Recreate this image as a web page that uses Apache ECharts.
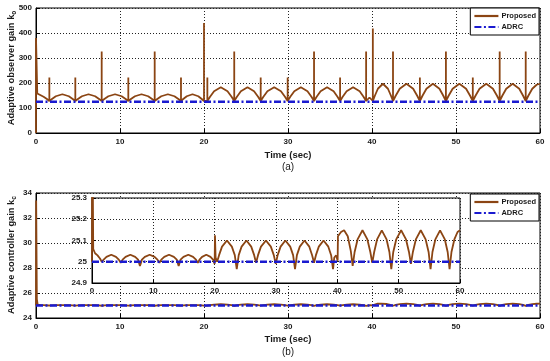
<!DOCTYPE html>
<html><head><meta charset="utf-8">
<script src="https://cdn.jsdelivr.net/npm/echarts@6/dist/echarts.min.js"></script>
<style>html,body{margin:0;padding:0;background:#fff}#c{width:550px;height:361px}</style>
</head><body><div id="c"></div>
<script>
// ---- data (time in sec, gain value) ----
const xTicks = [0, 10, 20, 30, 40, 50, 60];
const seriesNames = ['Proposed', 'ADRC'];
const yTitleObserver = 'Adaptive observer gain k{s|o}';
const yTitleController = 'Adaptive controller gain k{s|c}';
const adrcObserver = [[0, 125], [60, 125]];
const adrcController = [[0, 25], [60, 25]];
const observerGain = [
[0,0],[0,380],[0.15,158],[0.5,152],[0.9,145],[1.3,136],[1.59,128],[1.59,222],[1.59,128],
[1.9,136],[2.36,147],[3.14,155],[3.91,147],[4.37,136],[4.68,128],[4.68,222],[4.68,128],
[4.99,136],[5.47,147],[6.25,155],[7.04,147],[7.51,136],[7.82,128],[7.82,326],[7.82,128],
[8.14,136],[8.61,147],[9.41,155],[10.2,147],[10.67,136],[10.99,128],[10.99,222],[10.99,128],
[11.3,136],[11.78,147],[12.56,155],[13.35,147],[13.82,136],[14.13,128],[14.13,326],[14.13,128],
[14.44,136],[14.91,147],[15.7,155],[16.48,147],[16.95,136],[17.26,128],[17.26,222],[17.26,128],
[17.53,136],[17.95,147],[18.63,155],[19.32,147],[19.73,136],[20,128],[20,440],[20,128],
[20.2,134],[20.4,128],[20.4,222],[20.4,128],
[20.72,145],[21.2,167],[22,183],[22.8,167],[23.28,145],[23.6,128],[23.6,326],[23.6,128],
[23.92,145],[24.39,167],[25.18,183],[25.96,167],[26.44,145],[26.75,128],[26.75,222],[26.75,128],
[27.07,145],[27.55,167],[28.36,183],[29.16,167],[29.64,145],[29.96,128],[29.96,222],[29.96,128],
[30.27,145],[30.75,167],[31.53,183],[32.32,167],[32.79,145],[33.1,128],[33.1,326],[33.1,128],
[33.41,145],[33.88,167],[34.65,183],[35.43,167],[35.89,145],[36.2,128],[36.2,222],[36.2,128],
[36.51,145],[36.98,167],[37.75,183],[38.53,167],[38.99,145],[39.3,128],[39.3,326],[39.3,128],
[39.7,142],[40.1,128],[40.1,418],[40.1,128],
[40.34,149],[40.7,177],[41.3,197],[41.9,177],[42.26,149],[42.5,128],[42.5,326],[42.5,128],
[42.82,149],[43.3,177],[44.1,197],[44.9,177],[45.38,149],[45.7,128],[45.7,222],[45.7,128],
[46.01,149],[46.48,177],[47.25,197],[48.03,177],[48.49,149],[48.8,128],[48.8,326],[48.8,128],
[49.12,149],[49.6,177],[50.4,197],[51.2,177],[51.68,149],[52,128],[52,222],[52,128],
[52.32,149],[52.8,177],[53.6,197],[54.4,177],[54.88,149],[55.2,128],[55.2,326],[55.2,128],
[55.51,149],[55.98,177],[56.75,197],[57.53,177],[57.99,149],[58.3,128],[58.3,326],[58.3,128],
[58.61,149],[59.08,177],[59.6,193],[60,197]
];
const controllerGain = [
[0,25],[0.02,33.4],[0.1,25.5],[0.2,25.06],[0.5,25.04],[0.9,25.03],[1.3,25.015],[1.59,25.0],
[1.9,25.01],[2.36,25.023],[3.14,25.033],[3.91,25.023],[4.37,25.01],[4.68,24.995],
[4.99,25.01],[5.47,25.023],[6.25,25.033],[7.04,25.023],[7.51,25.01],[7.82,24.98],
[8.14,25.01],[8.61,25.023],[9.41,25.033],[10.2,25.023],[10.67,25.01],[10.99,24.995],
[11.3,25.01],[11.78,25.023],[12.56,25.033],[13.35,25.023],[13.82,25.01],[14.13,24.98],
[14.44,25.01],[14.91,25.023],[15.7,25.033],[16.48,25.023],[16.95,25.01],[17.26,24.995],
[17.53,25.01],[17.95,25.023],[18.63,25.033],[19.32,25.023],[19.73,25.01],[20,24.99],
[20.05,25.125],[20.15,25.02],[20.4,25.0],
[20.72,25.031],[21.2,25.071],[22,25.1],[22.8,25.071],[23.28,25.031],[23.6,24.965],
[23.92,25.031],[24.39,25.071],[25.18,25.1],[25.96,25.071],[26.44,25.031],[26.75,24.995],
[27.07,25.031],[27.55,25.071],[28.36,25.1],[29.16,25.071],[29.64,25.031],[29.96,24.99],
[30.27,25.031],[30.75,25.071],[31.53,25.1],[32.32,25.071],[32.79,25.031],[33.1,24.965],
[33.41,25.031],[33.88,25.071],[34.65,25.1],[35.43,25.071],[35.89,25.031],[36.2,24.995],
[36.51,25.031],[36.98,25.071],[37.75,25.1],[38.53,25.071],[38.99,25.031],[39.3,24.965],
[39.5,25.02],[39.8,25.03],[40.05,25.005],[40.1,25.12],[40.6,25.14],[41.1,25.148],[41.7,25.12],[42.2,25.05],[42.5,24.98],
[42.82,25.046],[43.3,25.105],[44.1,25.148],[44.9,25.105],[45.38,25.046],[45.7,24.995],
[46.01,25.046],[46.48,25.105],[47.25,25.148],[48.03,25.105],[48.49,25.046],[48.8,24.965],
[49.12,25.046],[49.6,25.105],[50.4,25.148],[51.2,25.105],[51.68,25.046],[52,24.99],
[52.32,25.046],[52.8,25.105],[53.6,25.148],[54.4,25.105],[54.88,25.046],[55.2,24.965],
[55.51,25.046],[55.98,25.105],[56.75,25.148],[57.53,25.105],[57.99,25.046],[58.3,24.965],
[58.61,25.046],[59.08,25.105],[59.6,25.14],[60,25.148]
];

// ---- styling ----
const BROWN = '#8b4513';
const BLUE = '#1a1ad0';
const TXT = '#1a1a1a';
const FONT = 'Liberation Sans, Arial, sans-serif';
const dotted = { show: true, lineStyle: { color: '#222', type: [1, 2], width: 1 } };

function xAx(gi, extra) {
  return Object.assign({
    type: 'value', gridIndex: gi, min: 0, max: 60, interval: 10,
    axisLine: { show: true, onZero: false, lineStyle: { color: '#000', width: 1 } },
    axisTick: { show: true, inside: true, length: 4, lineStyle: { color: '#000' } },
    axisLabel: { fontSize: 8, fontWeight: 'bold', color: TXT, fontFamily: FONT, margin: 5, showMinLabel: true, showMaxLabel: true, hideOverlap: false },
    splitLine: dotted
  }, extra || {});
}
function yAx(gi, min, max, interval, extra) {
  return Object.assign({
    type: 'value', gridIndex: gi, min: min, max: max, interval: interval,
    axisLine: { show: true, onZero: false, lineStyle: { color: '#000', width: 1 } },
    axisTick: { show: true, inside: true, length: 4, lineStyle: { color: '#000' } },
    axisLabel: { fontSize: 8, fontWeight: 'bold', color: TXT, fontFamily: FONT, margin: 4, showMinLabel: true, showMaxLabel: true, hideOverlap: false },
    splitLine: dotted
  }, extra || {});
}
const titleRich = { s: { fontSize: 6.5, fontWeight: 'bold', fill: TXT, fontFamily: FONT, verticalAlign: 'bottom', lineHeight: 7 } };
function yTitle(text, cx, cy) {
  return { type: 'text', x: cx, y: cy, rotation: Math.PI / 2, z: 30,
    style: { text: text, x: 0, y: 0, align: 'center', verticalAlign: 'middle', fontSize: 9.3, fontWeight: 'bold',
      fill: TXT, fontFamily: FONT, lineHeight: 13, rich: titleRich } };
}
function propSeries(xi, data, z) {
  return { name: seriesNames[0], type: 'line', xAxisIndex: xi, yAxisIndex: xi, data: data,
    showSymbol: false, symbol: 'none', z: z, clip: true,
    lineStyle: { color: BROWN, width: 1.8 }, itemStyle: { color: BROWN } };
}
function adrcSeries(xi, data, z) {
  return { name: seriesNames[1], type: 'line', xAxisIndex: xi, yAxisIndex: xi, data: data,
    showSymbol: false, symbol: 'none', z: z, clip: true,
    lineStyle: { color: BLUE, width: 2.4, type: [7, 2.5, 2, 2.5] }, itemStyle: { color: BLUE } };
}
function legendAt(top) {
  return { data: seriesNames, orient: 'vertical', right: 11, top: top, z: 20,
    backgroundColor: '#fff', borderColor: '#000', borderWidth: 1, borderRadius: 0,
    padding: [3, 3, 3, 3], itemGap: 1, itemWidth: 24, itemHeight: 1,
    itemStyle: { opacity: 0 },
    lineStyle: { width: 2.2 },
    textStyle: { fontSize: 7.5, fontWeight: 'bold', color: TXT, fontFamily: FONT, lineHeight: 10, padding: [0, 0, 0, -2] } };
}

const gridBase = { show: true, borderColor: '#000', borderWidth: 1, backgroundColor: '#fff', containLabel: false, outerBoundsMode: 'none' };
const chart = echarts.init(document.getElementById('c'), null, { renderer: 'canvas' });
chart.setOption({
  animation: false,
  backgroundColor: '#fff',
  textStyle: { fontFamily: FONT },
  grid: [
    Object.assign({ left: 36, top: 8, width: 504, height: 125 }, gridBase),
    Object.assign({ left: 36, top: 193, width: 504, height: 125 }, gridBase),
    Object.assign({ left: 92, top: 198, width: 368, height: 85, z: 5 }, gridBase)
  ],
  xAxis: [ xAx(0), xAx(1), xAx(2, { z: 6, axisLabel: { fontSize: 8, fontWeight: 'bold', color: TXT, fontFamily: FONT, margin: 4, showMinLabel: true, showMaxLabel: true, hideOverlap: false } }) ],
  yAxis: [
    yAx(0, 0, 500, 100),
    yAx(1, 24, 34, 2),
    yAx(2, 24.9, 25.3, 0.1, { z: 6, axisLabel: { fontSize: 8, fontWeight: 'bold', color: TXT, fontFamily: FONT, margin: 5, showMinLabel: true, showMaxLabel: true, hideOverlap: false,
      formatter: function (v) { return String(parseFloat(v.toFixed(1))); } } })
  ],
  legend: [ legendAt(8), legendAt(194) ],
  graphic: [
    yTitle(yTitleObserver, 11, 68),
    yTitle(yTitleController, 11, 255),
    { type: 'text', style: { text: 'Time (sec)', x: 288, y: 155, align: 'center', verticalAlign: 'middle', fontSize: 9.5, fontWeight: 'bold', fill: TXT, fontFamily: FONT } },
    { type: 'text', style: { text: '(a)', x: 288, y: 167, align: 'center', verticalAlign: 'middle', fontSize: 10, fill: TXT, fontFamily: FONT } },
    { type: 'text', style: { text: 'Time (sec)', x: 288, y: 339, align: 'center', verticalAlign: 'middle', fontSize: 9.5, fontWeight: 'bold', fill: TXT, fontFamily: FONT } },
    { type: 'text', style: { text: '(b)', x: 288, y: 352, align: 'center', verticalAlign: 'middle', fontSize: 10, fill: TXT, fontFamily: FONT } }
  ],
  series: [
    propSeries(0, observerGain, 2), adrcSeries(0, adrcObserver, 3),
    propSeries(1, controllerGain, 2), adrcSeries(1, adrcController, 3),
    propSeries(2, controllerGain, 8), adrcSeries(2, adrcController, 9)
  ]
});
</script></body></html>
